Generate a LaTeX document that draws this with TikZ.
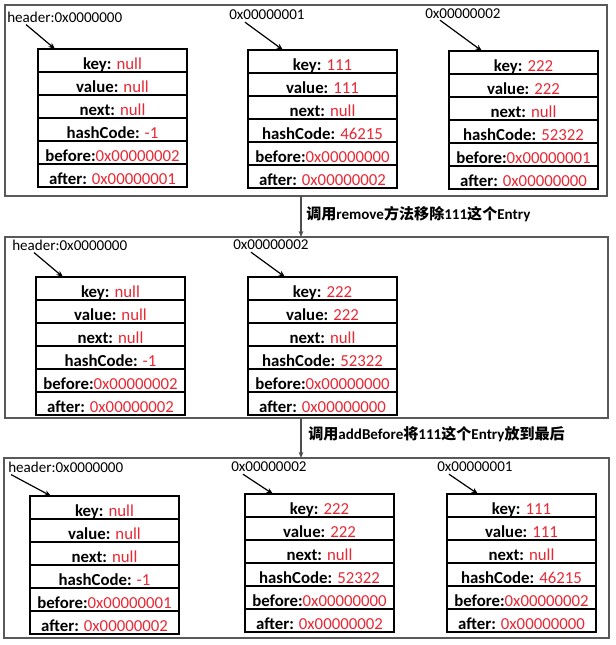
\documentclass[tikz,border=0pt]{standalone}
\usepackage{fontspec}
\setmainfont{Carlito}
\newfontfamily\cjk{Noto Sans CJK SC}
\usetikzlibrary{positioning,arrows.meta}
\definecolor{valred}{RGB}{232,40,52}
\newcommand{\fv}[1]{\textcolor{valred}{#1}}
\tikzset{
  panel/.style={draw=black!65, line width=0.9pt},
  field/.style={draw, line width=0.8pt, outer sep=0pt, minimum width=111.75pt,
    minimum height=17.25pt, text height=13pt, text depth=0pt, inner ysep=2.1pt, inner xsep=0pt,
    font=\fontsize{12.6}{15}\selectfont},
  addr/.style={anchor=west, inner sep=0pt},
  ptr/.style={-{Stealth[length=5pt,width=4pt]}, line width=0.9pt},
  flow/.style={-{Stealth[length=4.5pt,width=3.5pt]}, draw=black!70, line width=0.8pt}
}
\begin{document}
\begin{tikzpicture}[x=0.75pt, y=-0.75pt, font=\fontsize{11.3}{13.5}\selectfont]
    \useasboundingbox (0,0) rectangle (616,645);
    % frames
    \draw[panel] (5,5) rectangle (607,196);
    \draw[panel] (5,237) rectangle (608,418);
    \draw[panel] (4,458) rectangle (609,638);
    \coordinate (f1) at (301,196);
    \coordinate (f2) at (301,237);
    \coordinate (f3) at (301,418);
    \coordinate (f4) at (301,458);
    \draw[flow] (f1) -- (f2);
    \node[addr] (step1) at (306,214) {\bfseries{\cjk 调用}remove{\cjk 方法移除}111{\cjk 这个}Entry};
    \draw[flow] (f3) -- (f4);
    \node[addr] (step2) at (308,434) {\bfseries{\cjk 调用}addBefore{\cjk 将}111{\cjk 这个}Entry{\cjk 放到最后}};

    % top: header
    \node[addr] (th) at (7,17) {header:0x0000000};
    \node[field, anchor=north west] (ta1) at (38,49) {\textbf{key:} \fv{null}};
    \node[field, below=0pt of ta1] (ta2) {\textbf{value:} \fv{null}};
    \node[field, below=0pt of ta2] (ta3) {\textbf{next:} \fv{null}};
    \node[field, below=0pt of ta3] (ta4) {\textbf{hashCode:} \fv{-1}};
    \node[field, below=0pt of ta4] (ta5) {\textbf{before:}\fv{0x00000002}};
    \node[field, below=0pt of ta5] (ta6) {\textbf{after:} \fv{0x00000001}};
    \draw[ptr] ([shift={(19,2)}]th.south west) -- ([shift={(17,0)}]ta1.north west);
    % top: 111
    \node[addr] (tl1) at (229,15) {0x00000001};
    \node[field, anchor=north west] (tb1) at (248,50) {\textbf{key:} \fv{111}};
    \node[field, below=0pt of tb1] (tb2) {\textbf{value:} \fv{111}};
    \node[field, below=0pt of tb2] (tb3) {\textbf{next:} \fv{null}};
    \node[field, below=0pt of tb3] (tb4) {\textbf{hashCode:} \fv{46215}};
    \node[field, below=0pt of tb4] (tb5) {\textbf{before:}\fv{0x00000000}};
    \node[field, below=0pt of tb5] (tb6) {\textbf{after:} \fv{0x00000002}};
    \draw[ptr] ([shift={(16,2)}]tl1.south west) -- ([shift={(35,0)}]tb1.north west);
    % top: 222
    \node[addr] (tl2) at (425,14) {0x00000002};
    \node[field, anchor=north west] (tc1) at (449,51) {\textbf{key:} \fv{222}};
    \node[field, below=0pt of tc1] (tc2) {\textbf{value:} \fv{222}};
    \node[field, below=0pt of tc2] (tc3) {\textbf{next:} \fv{null}};
    \node[field, below=0pt of tc3] (tc4) {\textbf{hashCode:} \fv{52322}};
    \node[field, below=0pt of tc4] (tc5) {\textbf{before:}\fv{0x00000001}};
    \node[field, below=0pt of tc5] (tc6) {\textbf{after:} \fv{0x00000000}};
    \draw[ptr] ([shift={(15,1)}]tl2.south west) -- ([shift={(33,0)}]tc1.north west);

    % middle: header
    \node[addr] (mh) at (12,245) {header:0x0000000};
    \node[field, anchor=north west] (ma1) at (36,277) {\textbf{key:} \fv{null}};
    \node[field, below=0pt of ma1] (ma2) {\textbf{value:} \fv{null}};
    \node[field, below=0pt of ma2] (ma3) {\textbf{next:} \fv{null}};
    \node[field, below=0pt of ma3] (ma4) {\textbf{hashCode:} \fv{-1}};
    \node[field, below=0pt of ma4] (ma5) {\textbf{before:}\fv{0x00000002}};
    \node[field, below=0pt of ma5] (ma6) {\textbf{after:} \fv{0x00000002}};
    \draw[ptr] ([shift={(22,2)}]mh.south west) -- ([shift={(27,0)}]ma1.north west);
    % middle: 222
    \node[addr] (ml2) at (233,245) {0x00000002};
    \node[field, anchor=north west] (mb1) at (248,277) {\textbf{key:} \fv{222}};
    \node[field, below=0pt of mb1] (mb2) {\textbf{value:} \fv{222}};
    \node[field, below=0pt of mb2] (mb3) {\textbf{next:} \fv{null}};
    \node[field, below=0pt of mb3] (mb4) {\textbf{hashCode:} \fv{52322}};
    \node[field, below=0pt of mb4] (mb5) {\textbf{before:}\fv{0x00000000}};
    \node[field, below=0pt of mb5] (mb6) {\textbf{after:} \fv{0x00000000}};
    \draw[ptr] ([shift={(18,2)}]ml2.south west) -- ([shift={(37,0)}]mb1.north west);

    % bottom: header
    \node[addr] (bh) at (8,467) {header:0x0000000};
    \node[field, anchor=north west] (ba1) at (30,496) {\textbf{key:} \fv{null}};
    \node[field, below=0pt of ba1] (ba2) {\textbf{value:} \fv{null}};
    \node[field, below=0pt of ba2] (ba3) {\textbf{next:} \fv{null}};
    \node[field, below=0pt of ba3] (ba4) {\textbf{hashCode:} \fv{-1}};
    \node[field, below=0pt of ba4] (ba5) {\textbf{before:}\fv{0x00000001}};
    \node[field, below=0pt of ba5] (ba6) {\textbf{after:} \fv{0x00000002}};
    \draw[ptr] ([shift={(3,2)}]bh.south west) -- ([shift={(21,0)}]ba1.north west);
    % bottom: 222
    \node[addr] (bl2) at (231,467) {0x00000002};
    \node[field, anchor=north west] (bb1) at (245,494) {\textbf{key:} \fv{222}};
    \node[field, below=0pt of bb1] (bb2) {\textbf{value:} \fv{222}};
    \node[field, below=0pt of bb2] (bb3) {\textbf{next:} \fv{null}};
    \node[field, below=0pt of bb3] (bb4) {\textbf{hashCode:} \fv{52322}};
    \node[field, below=0pt of bb4] (bb5) {\textbf{before:}\fv{0x00000000}};
    \node[field, below=0pt of bb5] (bb6) {\textbf{after:} \fv{0x00000002}};
    \draw[ptr] ([shift={(12,2)}]bl2.south west) -- ([shift={(28,0)}]bb1.north west);
    % bottom: 111
    \node[addr] (bl1) at (437,467) {0x00000001};
    \node[field, anchor=north west] (bc1) at (447,494) {\textbf{key:} \fv{111}};
    \node[field, below=0pt of bc1] (bc2) {\textbf{value:} \fv{111}};
    \node[field, below=0pt of bc2] (bc3) {\textbf{next:} \fv{null}};
    \node[field, below=0pt of bc3] (bc4) {\textbf{hashCode:} \fv{46215}};
    \node[field, below=0pt of bc4] (bc5) {\textbf{before:}\fv{0x00000002}};
    \node[field, below=0pt of bc5] (bc6) {\textbf{after:} \fv{0x00000000}};
    \draw[ptr] ([shift={(12,2)}]bl1.south west) -- ([shift={(31,0)}]bc1.north west);
\end{tikzpicture}
\end{document}
